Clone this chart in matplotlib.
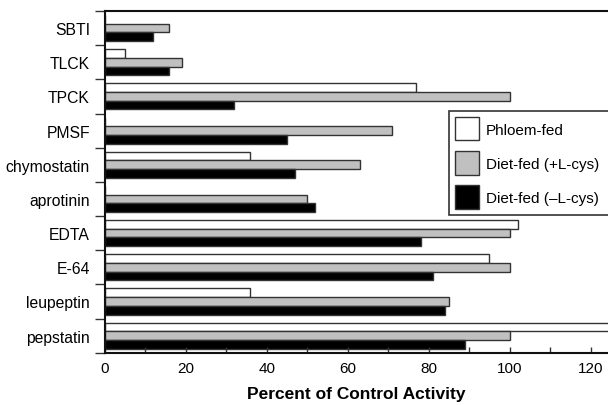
import matplotlib
matplotlib.use("Agg")
import matplotlib.pyplot as plt
import numpy as np
from matplotlib.patches import Patch

plt.rcParams['font.family'] = ['Liberation Sans', 'DejaVu Sans']

categories = ["SBTI", "TLCK", "TPCK", "PMSF", "chymostatin", "aprotinin",
              "EDTA", "E-64", "leupeptin", "pepstatin"]
phloem_fed = [0, 5, 77, 0, 36, 0, 102, 95, 36, 125]
diet_plus = [16, 19, 100, 71, 63, 50, 100, 100, 85, 100]
diet_minus = [12, 16, 32, 45, 47, 52, 78, 81, 84, 89]
series_names = ["Phloem-fed", "Diet-fed (+L-cys)", "Diet-fed (\u2013L-cys)"]
xticks = [0, 20, 40, 60, 80, 100, 120]

fig = plt.figure(figsize=(6.08, 4.06), dpi=100)
ax = fig.add_axes([104.7/608, (406-353.7)/406, (608-104.7)/608, (353.7-12)/406])

y = np.arange(len(categories))
h = 0.255
edge = '#333333'
colors = ['white', '#c0c0c0', 'black']
for k, vals in enumerate([phloem_fed, diet_plus, diet_minus]):
    ax.barh(y + (k-1)*h, vals, height=h, color=colors[k], edgecolor=edge, linewidth=1.0)

ax.set_xlim(0, 124.3)
ax.set_ylim(len(categories)-0.5, -0.5)

ax.set_yticks(np.arange(len(categories)+1) - 0.5)
ax.set_yticklabels([])
ax.set_yticks(y, minor=True)
ax.set_yticklabels(categories, minor=True, fontsize=11.3)
ax.tick_params(axis='y', which='major', direction='out', length=7, width=1, color=edge)
ax.tick_params(axis='y', which='minor', length=0, pad=10.6)

ax.set_xticks(xticks)
ax.set_xticklabels([str(v) for v in xticks], fontsize=11)
ax.set_xticks(np.arange(10, 125, 20), minor=True)
ax.tick_params(axis='x', which='both', direction='in', length=4, width=1, color=edge, pad=6)

ax.spines['right'].set_visible(False)
for s in ['left', 'bottom', 'top']:
    ax.spines[s].set_linewidth(1.5)
    ax.spines[s].set_color('#111111')

ax.set_xlabel("Percent of Control Activity", fontsize=12.5, fontweight='bold', labelpad=8)

handles = [Patch(facecolor=c, edgecolor=edge, linewidth=1.0) for c in colors]
leg = ax.legend(handles, series_names, loc='upper left', bbox_to_anchor=(0.684, 0.412, 0.33, 0.296),
                mode='expand', borderaxespad=0, fontsize=11, handlelength=1.55, handleheight=2.0,
                labelspacing=0.7, handletextpad=0.45, borderpad=0.4, fancybox=False,
                framealpha=1, edgecolor='#333333')
leg.get_frame().set_linewidth(1.2)

fig.savefig("out.png", dpi=100)
